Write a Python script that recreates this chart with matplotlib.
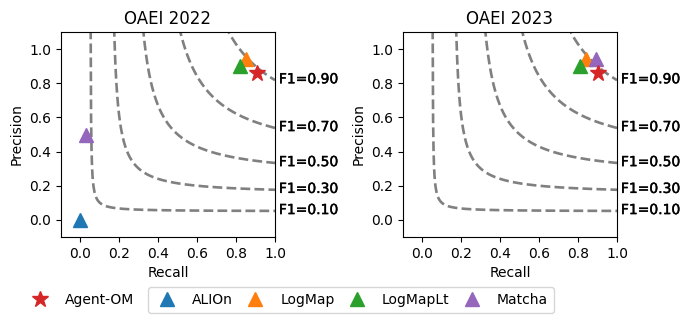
import numpy as np
import matplotlib
matplotlib.use("Agg")
import matplotlib.pyplot as plt
import matplotlib.patheffects as pe
from matplotlib.lines import Line2D

f1_levels = [0.1, 0.3, 0.5, 0.7, 0.9]
titles = ["OAEI 2022", "OAEI 2023"]

systems_2022 = ["Agent-OM", "ALIOn", "LogMap", "LogMapLt", "Matcha"]
recall_2022 = [0.91, 0.00, 0.85, 0.82, 0.03]
precision_2022 = [0.86, 0.00, 0.94, 0.90, 0.50]

systems_2023 = ["Agent-OM", "LogMap", "LogMapLt", "Matcha"]
recall_2023 = [0.90, 0.84, 0.81, 0.89]
precision_2023 = [0.86, 0.94, 0.90, 0.94]

colors = {"Agent-OM": "#d62728", "ALIOn": "#1f77b4", "LogMap": "#ff7f0e",
          "LogMapLt": "#2ca02c", "Matcha": "#9467bd"}
markers = {"Agent-OM": "*", "ALIOn": "^", "LogMap": "^", "LogMapLt": "^", "Matcha": "^"}
msize = {"Agent-OM": 12, "ALIOn": 10, "LogMap": 10, "LogMapLt": 10, "Matcha": 10}

fig = plt.figure(figsize=(6.9, 3.22), dpi=100)
ax1 = fig.add_axes([61/690, 85/322, 214/690, 205/322])
ax2 = fig.add_axes([403/690, 85/322, 214/690, 205/322])

data = [(systems_2022, recall_2022, precision_2022), (systems_2023, recall_2023, precision_2023)]
for ax, title, (names, rec, prec) in zip([ax1, ax2], titles, data):
    for f in f1_levels:
        x = np.linspace(0.01, 1, 400)
        y = f * x / (2 * x - f)
        mask = y >= 0
        ax.plot(x[mask], y[mask], color="gray", linestyle="--", linewidth=1.9, zorder=1)
        ax.text(1.02, f / (2 - f) + 0.005, "F1={:.2f}".format(f), fontsize=10,
                va="center", ha="left", clip_on=False,
                path_effects=[pe.withStroke(linewidth=0.3, foreground="black")])
    order = [i for i, n in enumerate(names) if n != "Agent-OM"] + [i for i, n in enumerate(names) if n == "Agent-OM"]
    for i in order:
        n = names[i]
        ax.plot(rec[i], prec[i], marker=markers[n], color=colors[n], markersize=msize[n],
                linestyle="none", zorder=3)
    ax.set_xlim(-0.1, 1.0)
    ax.set_ylim(-0.1, 1.1)
    ax.set_xticks([0.0, 0.2, 0.4, 0.6, 0.8, 1.0])
    ax.set_yticks([0.0, 0.2, 0.4, 0.6, 0.8, 1.0])
    ax.set_xlabel("Recall")
    ax.set_ylabel("Precision")
    ax.set_title(title)

h_agent = [Line2D([], [], marker="*", color=colors["Agent-OM"], linestyle="none", markersize=12)]
leg1 = fig.legend(h_agent, ["Agent-OM"], loc="center left", bbox_to_anchor=(14/690, 1 - 300/322),
                  frameon=False)
others = ["ALIOn", "LogMap", "LogMapLt", "Matcha"]
h_others = [Line2D([], [], marker="^", color=colors[n], linestyle="none", markersize=10) for n in others]
leg2 = fig.legend(h_others, others, loc="center left", bbox_to_anchor=(141/690, 1 - 300/322),
                  ncol=4, columnspacing=0.6)

fig.savefig("out.png", dpi=100)
